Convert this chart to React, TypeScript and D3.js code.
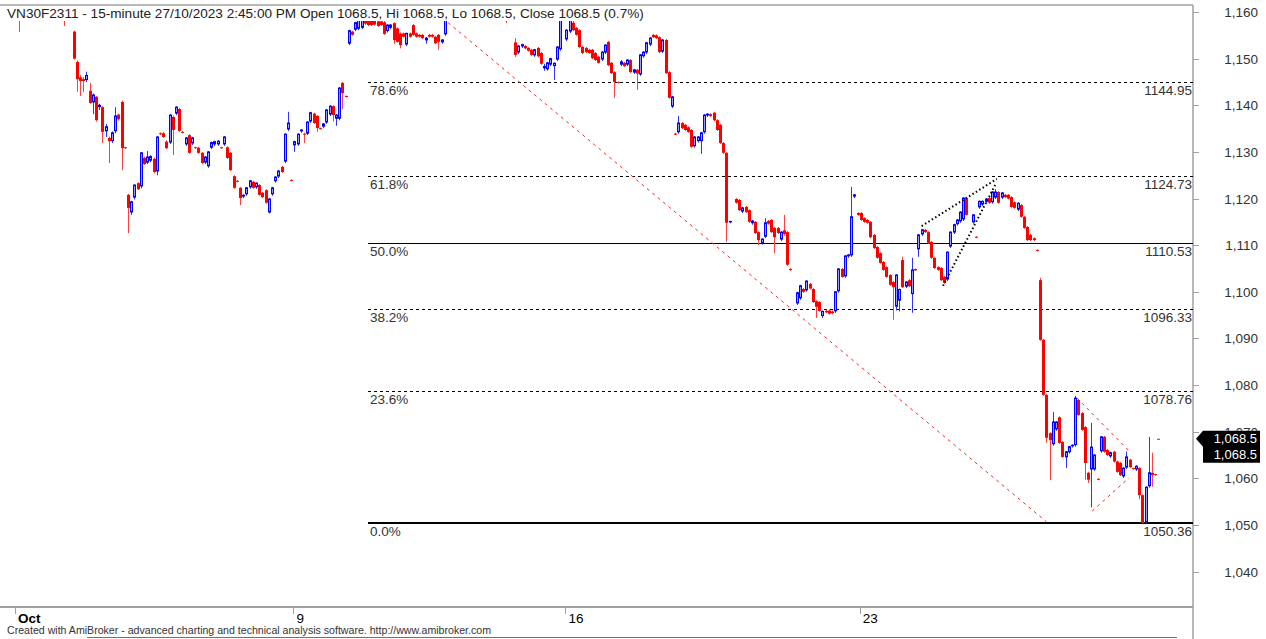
import React from 'react';
import * as d3 from 'd3';

type Bar = [number, number, number, number] | null; // open, high, low, close

// Week of Oct 2 - Oct 6 (15-minute bars)
const week1: Bar[] = [
  [1164.0,1166.5,1162.0,1165.0],[1165.0,1166.0,1155.7,1163.0],[1163.0,1165.0,1161.5,1164.5],[1164.5,1167.0,1163.5,1166.0],
  [1166.0,1167.5,1164.0,1164.5],[1164.5,1166.0,1162.5,1163.0],[1163.0,1164.5,1161.0,1162.0],[1162.0,1165.0,1161.5,1164.5],
  [1164.5,1166.5,1163.5,1165.5],[1165.5,1166.0,1162.5,1163.0],[1163.0,1164.0,1160.5,1161.5],[1161.5,1163.5,1160.0,1162.5],
  [1162.5,1164.0,1161.0,1161.5],[1161.5,1162.5,1159.5,1160.5],[1160.5,1162.0,1159.2,1161.0],[1161.0,1161.5,1157.0,1160.0],
  [1160.0,1161.5,1159.0,1160.5],[1160.5,1161.0,1159.5,1160.0],
  [1155.8,1156.0,1149.8,1150.0],[1149.3,1149.6,1142.9,1145.6],[1146.0,1146.5,1142.0,1145.2],[1145.6,1146.0,1142.8,1145.2],
  [1145.3,1147.2,1145.0,1146.4],[1143.1,1144.8,1140.3,1140.5],[1140.5,1142.5,1138.1,1142.2],[1141.8,1142.0,1136.5,1136.8],
  [1139.5,1140.3,1139.0,1140.0],[1139.6,1139.8,1131.9,1134.3],[1134.3,1136.0,1133.2,1135.4],[1133.0,1133.3,1127.6,1132.3],
  [1132.2,1134.4,1131.9,1134.1],[1134.3,1139.6,1134.0,1137.7],[1138.0,1138.2,1136.7,1137.0],[1140.7,1141.0,1126.1,1130.8],
  [1131.0,1131.1,1130.6,1130.8],
  [1120.8,1121.0,1112.6,1118.0],[1116.9,1119.5,1116.5,1119.3],[1120.1,1123.0,1119.8,1122.9],[1123.3,1123.5,1121.8,1122.0],
  [1122.5,1130.0,1122.2,1129.8],[1128.7,1129.0,1127.2,1127.4],[1127.6,1130.2,1127.4,1128.9],[1128.0,1129.3,1127.8,1129.0],
  [1128.5,1128.8,1125.4,1125.7],[1125.7,1133.4,1125.0,1133.2],[1134.0,1134.2,1133.6,1133.8],[1134.0,1134.3,1133.0,1133.2],
  [1132.2,1132.5,1130.6,1130.8],[1131.9,1138.1,1131.7,1137.9],[1137.5,1137.8,1129.3,1134.7],[1138.1,1139.8,1137.9,1139.6],
  [1139.2,1139.4,1134.3,1134.5],[1134.3,1134.5,1134.0,1134.2],[1131.5,1133.2,1131.3,1133.0],[1133.6,1133.8,1129.6,1129.8],
  [1131.7,1133.2,1131.5,1133.0],[1131.0,1131.1,1130.7,1130.8],[1130.9,1131.1,1129.6,1129.8],[1129.8,1130.0,1127.4,1127.6],
  [1127.6,1129.1,1127.4,1128.9],[1126.8,1130.2,1126.6,1130.0],[1130.8,1132.2,1130.6,1132.0],[1131.5,1132.4,1131.3,1132.2],
  [1131.5,1132.5,1131.3,1132.3],[1131.0,1131.1,1130.7,1130.8],[1131.5,1133.4,1131.3,1133.2],[1131.0,1131.2,1128.5,1128.7],
  [1129.8,1130.0,1125.9,1126.1],[1124.8,1125.0,1122.1,1122.3],[1123.8,1124.0,1123.5,1123.6],[1122.3,1122.5,1118.6,1120.1],
  [1120.3,1120.9,1120.1,1120.7],[1120.8,1122.5,1120.6,1122.3],[1122.3,1124.0,1122.1,1123.8],[1123.6,1123.8,1122.1,1122.3],
  [1122.3,1123.5,1122.1,1123.3],[1122.9,1123.1,1120.6,1120.8],[1121.2,1121.4,1120.1,1120.3],[1121.8,1122.0,1118.9,1119.1],
  [1116.9,1120.1,1116.8,1119.9],[1120.8,1122.5,1120.6,1122.3],[1123.6,1124.8,1123.4,1124.6],[1124.6,1126.1,1124.4,1125.9],
  [1126.8,1127.0,1125.5,1125.7],[1127.8,1134.0,1127.6,1133.8],[1134.7,1138.6,1134.5,1136.2],[1124.0,1124.1,1123.7,1123.8],
];

// Week of Oct 9 - Oct 13
const week2: Bar[] = [
  [1131.3,1132.4,1130.0,1132.2],[1131.5,1134.0,1131.3,1133.8],[1134.3,1134.9,1134.1,1134.7],[1133.9,1134.1,1131.9,1133.8],
  [1133.8,1136.6,1133.6,1136.4],[1136.4,1138.6,1136.2,1138.4],[1138.2,1138.4,1136.0,1136.2],[1137.7,1137.9,1134.3,1135.1],
  [1135.1,1135.2,1134.8,1135.0],[1135.3,1136.2,1135.1,1136.0],[1136.2,1139.2,1136.0,1139.0],[1137.9,1140.0,1137.7,1139.8],
  [1139.8,1140.0,1136.5,1137.9],[1137.0,1138.1,1135.6,1137.9],[1137.0,1143.9,1136.8,1143.7],[1144.8,1145.0,1139.2,1142.6],
  [1142.0,1142.1,1141.7,1141.8],
  [1153.1,1156.2,1152.9,1156.0],[1155.8,1156.0,1154.9,1155.1],[1156.1,1157.9,1155.9,1157.7],[1156.3,1158.8,1156.1,1158.5],
  [1156.5,1159.3,1156.3,1159.0],[1159.0,1159.5,1157.2,1157.5],[1158.5,1158.8,1157.0,1157.2],[1158.3,1158.6,1157.0,1157.2],
  [1158.3,1158.6,1157.1,1157.3],[1158.0,1158.4,1156.8,1157.0],[1158.0,1158.4,1157.0,1157.2],[1157.8,1158.1,1155.1,1155.3],
  [1155.8,1157.4,1155.6,1157.2],[1156.5,1157.4,1156.3,1157.2],[1157.6,1157.8,1153.1,1154.0],[1156.5,1156.7,1153.4,1153.6],
  [1155.4,1155.6,1152.2,1152.9],[1155.4,1155.6,1154.5,1154.7],[1152.9,1155.6,1152.7,1155.4],[1155.4,1155.6,1154.5,1154.7],
  [1157.2,1157.4,1154.9,1155.1],[1155.4,1155.6,1154.5,1154.7],[1155.1,1155.3,1154.5,1154.7],[1155.1,1155.3,1154.2,1154.4],
  [1153.8,1154.6,1153.2,1154.4],[1155.1,1155.3,1154.5,1154.7],[1155.1,1155.3,1154.5,1154.7],[1154.7,1154.9,1153.1,1153.3],
  [1155.1,1155.3,1151.9,1153.6],[1153.4,1154.2,1153.2,1154.0],[1155.1,1160.5,1154.9,1159.5],
  [1159.5,1162.0,1159.2,1161.5],[1161.5,1163.5,1160.8,1163.0],[1163.0,1164.5,1162.0,1162.5],[1162.5,1165.0,1162.0,1164.5],
  [1164.5,1167.0,1164.0,1166.5],[1166.5,1168.0,1165.5,1167.0],[1167.0,1169.0,1166.0,1168.5],[1168.5,1170.7,1167.5,1169.5],
  [1169.5,1170.0,1166.5,1167.0],[1167.0,1168.0,1165.0,1165.5],[1165.5,1167.0,1164.5,1166.5],[1166.5,1167.5,1164.0,1164.5],
  [1164.5,1165.5,1162.5,1163.0],[1163.0,1164.5,1161.5,1164.0],[1164.0,1165.0,1162.0,1162.5],[1162.5,1163.5,1160.5,1161.0],
  [1161.0,1162.5,1160.0,1162.0],[1162.0,1163.0,1160.5,1161.0],[1161.0,1161.5,1157.6,1160.5],[1160.5,1161.5,1159.5,1160.0],
  [1160.0,1160.5,1159.3,1159.8],
  [1153.5,1154.4,1150.4,1150.8],[1151.2,1152.9,1151.0,1152.7],[1152.5,1153.2,1152.3,1153.0],[1152.7,1152.9,1152.0,1152.2],
  [1152.3,1152.5,1151.5,1151.7],[1151.9,1152.1,1150.6,1150.8],[1150.6,1152.1,1150.4,1151.9],[1152.3,1152.5,1150.3,1150.5],
  [1151.2,1151.4,1148.7,1148.9],[1147.8,1148.9,1147.4,1148.3],[1147.6,1149.3,1147.4,1149.1],[1148.6,1150.2,1148.4,1150.0],
  [1148.3,1149.2,1145.4,1149.0],[1149.7,1152.7,1149.5,1152.5],[1151.9,1162.0,1151.7,1161.0],[1161.0,1161.3,1160.7,1161.0],
];

// Week of Oct 16 - Oct 20
const week3: Bar[] = [
  [1154.0,1156.3,1153.8,1156.1],[1155.7,1159.0,1155.5,1158.5],[1157.7,1158.2,1155.9,1156.1],[1156.6,1156.8,1154.9,1155.1],
  [1156.1,1156.3,1152.3,1152.5],[1152.5,1152.7,1151.0,1151.2],[1152.3,1152.5,1151.2,1151.4],[1151.9,1152.1,1151.0,1151.2],
  [1151.9,1152.1,1149.9,1150.1],[1151.2,1151.4,1149.5,1149.7],[1150.4,1150.6,1148.9,1149.1],[1149.7,1151.6,1149.5,1151.4],
  [1151.2,1153.1,1151.0,1152.9],[1153.6,1153.8,1148.4,1148.6],[1149.1,1149.3,1146.7,1146.9],[1147.1,1147.3,1141.6,1145.0],
  [1145.0,1145.1,1144.7,1144.8],
  [1148.6,1149.7,1148.4,1149.3],[1149.1,1149.3,1148.2,1148.4],[1148.6,1149.9,1148.4,1149.7],[1149.7,1149.9,1146.9,1147.1],
  [1146.9,1147.8,1146.7,1147.6],[1147.6,1147.8,1143.3,1146.8],[1146.5,1151.0,1146.3,1150.8],[1150.4,1151.6,1150.2,1151.4],
  [1151.2,1153.6,1151.0,1153.4],[1152.9,1154.6,1152.7,1154.4],[1155.1,1155.3,1154.4,1154.6],[1155.0,1155.2,1154.2,1154.4],
  [1154.6,1154.8,1151.2,1151.4],[1151.4,1154.2,1151.2,1154.0],[1154.0,1154.2,1146.7,1146.9],[1147.1,1147.3,1141.4,1141.6],
  [1139.6,1142.0,1139.4,1141.8],
  [1133.9,1134.1,1133.6,1133.8],[1134.1,1137.7,1133.9,1136.2],[1136.2,1136.4,1134.9,1135.1],[1135.8,1136.0,1134.5,1134.7],
  [1135.3,1135.5,1134.1,1134.3],[1134.7,1134.9,1130.9,1131.1],[1131.1,1133.4,1130.9,1133.2],[1132.2,1133.4,1132.0,1133.2],
  [1132.2,1134.3,1129.6,1134.1],[1134.1,1138.1,1133.9,1137.9],[1137.7,1138.3,1137.5,1138.1],[1138.1,1138.3,1137.5,1137.7],
  [1138.4,1138.6,1136.6,1136.8],[1136.8,1137.0,1134.5,1134.7],[1135.8,1136.0,1131.7,1131.9],[1131.9,1132.1,1129.6,1129.8],
  [1129.8,1130.0,1110.7,1114.8],[1114.9,1115.2,1114.7,1115.1],
  null,
  [1119.9,1120.1,1118.9,1119.1],[1119.7,1119.9,1117.3,1117.5],[1117.1,1118.2,1116.9,1118.0],[1118.2,1118.4,1116.9,1117.1],
  [1117.5,1117.7,1114.8,1115.0],[1114.6,1115.4,1114.4,1115.2],[1115.0,1115.2,1112.4,1112.6],[1112.8,1113.0,1110.0,1111.1],
  [1110.3,1111.5,1110.1,1111.3],[1111.7,1115.8,1111.5,1114.8],[1115.2,1115.4,1114.4,1114.6],[1115.4,1115.6,1112.6,1112.8],
  [1113.7,1113.9,1108.3,1111.7],[1113.7,1113.9,1112.4,1112.6],[1111.1,1113.0,1110.9,1112.8],[1113.2,1116.5,1112.0,1112.4],
  [1112.8,1113.0,1105.6,1105.8],[1104.9,1105.1,1104.5,1104.7],
  null,
  [1097.4,1100.0,1097.2,1099.8],[1098.5,1101.5,1098.3,1101.3],[1100.6,1100.8,1099.8,1100.0],[1100.2,1102.5,1100.0,1102.3],
  [1101.7,1101.9,1100.5,1100.7],[1100.6,1100.8,1097.6,1097.8],[1098.0,1098.2,1094.4,1096.8],[1097.8,1098.0,1095.7,1095.9],
  [1094.7,1096.0,1094.4,1095.8],[1095.9,1096.1,1095.4,1095.6],[1096.0,1096.2,1095.1,1095.3],[1095.8,1096.0,1095.2,1095.4],
  [1095.7,1100.2,1095.5,1100.0],[1100.0,1105.1,1099.8,1104.9],[1104.9,1105.1,1103.0,1103.2],[1103.2,1107.9,1103.0,1107.7],
  [1107.5,1108.1,1107.3,1107.9],[1107.7,1122.5,1107.5,1116.1],[1120.3,1121.0,1120.1,1120.8],
];

// Week of Oct 23 - Oct 27
const week4: Bar[] = [
  [1116.9,1117.1,1116.3,1116.5],[1116.9,1117.1,1115.2,1115.4],[1115.8,1116.0,1114.8,1115.0],[1115.4,1115.6,1114.6,1114.8],
  [1115.0,1115.2,1111.5,1111.7],[1112.2,1112.4,1109.2,1109.4],[1109.6,1109.8,1107.1,1107.3],[1108.3,1108.5,1106.0,1106.2],
  [1106.4,1106.6,1104.5,1104.7],[1105.3,1105.5,1103.0,1103.2],[1103.6,1103.8,1101.3,1101.5],[1102.1,1102.3,1094.0,1101.0],
  [1096.7,1103.8,1096.0,1103.6],[1098.0,1100.7,1095.8,1100.5],[1106.8,1107.5,1100.8,1101.0],[1101.0,1102.3,1100.8,1102.1],
  [1102.5,1102.7,1101.0,1101.2],[1099.4,1107.3,1095.5,1104.7],[1104.9,1105.0,1104.5,1104.6],
  [1109.0,1112.4,1107.5,1112.2],[1112.2,1113.5,1112.0,1113.3],[1113.3,1113.5,1112.6,1112.8],[1112.8,1113.0,1110.3,1110.5],
  [1110.7,1110.9,1107.1,1107.3],[1107.3,1107.5,1104.9,1105.1],[1105.3,1105.5,1104.5,1104.7],[1105.1,1105.3,1102.3,1102.5],
  [1103.2,1103.4,1101.7,1101.9],[1102.5,1108.7,1102.3,1108.5],[1109.6,1113.0,1109.4,1112.8],[1112.6,1114.6,1112.4,1114.4],
  [1114.4,1115.6,1114.2,1115.4],[1115.0,1117.3,1114.8,1117.1],[1115.4,1120.3,1115.2,1120.1],[1120.1,1120.3,1116.3,1116.5],
  null,[1114.8,1116.7,1114.6,1116.5],[1111.8,1111.9,1111.5,1111.6],
  [1118.0,1119.6,1117.8,1119.4],[1118.6,1119.6,1118.4,1119.4],[1119.2,1120.1,1119.0,1119.9],[1120.1,1120.3,1118.9,1119.1],
  [1119.1,1121.6,1118.9,1121.4],[1120.1,1122.0,1119.9,1121.4],[1121.4,1121.6,1118.9,1119.1],[1120.1,1121.4,1119.9,1121.2],
  [1120.8,1121.0,1120.1,1120.3],[1120.8,1121.0,1119.8,1120.0],[1120.3,1120.5,1118.0,1118.2],[1119.2,1119.4,1117.8,1118.0],
  [1117.5,1119.2,1117.3,1119.0],[1118.6,1118.8,1115.9,1116.1],[1116.1,1116.3,1113.5,1113.7],[1113.9,1114.1,1110.9,1111.1],
  [1112.2,1112.4,1110.9,1111.1],[1111.5,1111.7,1110.9,1111.1],[1109.0,1109.1,1108.7,1108.8],
  [1102.5,1103.0,1089.5,1089.7],[1089.7,1089.9,1077.7,1077.9],[1077.9,1078.1,1067.6,1068.7],[1069.7,1069.9,1059.6,1068.2],
  [1067.2,1074.2,1067.0,1072.1],[1070.4,1072.3,1070.2,1072.1],[1073.1,1073.3,1067.4,1067.6],[1067.8,1068.0,1064.4,1064.6],
  [1064.4,1065.9,1062.2,1065.7],[1065.5,1067.0,1065.3,1066.8],[1066.8,1067.3,1066.6,1067.1],[1067.0,1077.7,1066.8,1077.2],
  [1076.8,1077.0,1073.4,1073.6],[1074.0,1074.2,1070.2,1070.4],[1071.0,1071.2,1059.7,1063.3],[1061.2,1061.4,1059.0,1059.7],
  [1061.8,1071.9,1053.8,1066.7],[1061.8,1065.2,1061.6,1065.0],[1059.9,1060.0,1059.6,1059.7],
  [1065.7,1069.1,1065.5,1068.9],[1068.9,1069.1,1065.5,1065.7],[1066.1,1066.3,1064.8,1065.0],[1064.6,1065.7,1064.4,1065.5],
  [1065.7,1065.9,1063.4,1063.6],[1063.6,1063.8,1061.2,1061.4],[1063.3,1063.5,1060.5,1060.7],[1060.3,1062.4,1060.1,1062.2],
  [1062.2,1065.7,1062.0,1064.6],[1064.0,1064.2,1062.2,1062.4],[1062.2,1062.3,1061.9,1062.0],[1061.8,1062.8,1061.6,1062.6],
  [1062.2,1062.4,1055.5,1056.4],[1056.4,1056.6,1050.36,1050.4],[1050.4,1058.3,1050.36,1058.1],[1058.2,1068.9,1058.0,1061.2],
  [1061.2,1065.5,1058.2,1060.7],[1060.9,1061.0,1060.6,1060.7],[1068.5,1068.5,1068.5,1068.5],
];

const bars: Bar[] = [...week1, ...week2, ...week3, ...week4];

const yTicks = [1040, 1050, 1060, 1070, 1080, 1090, 1100, 1110, 1120, 1130, 1140, 1150, 1160];
const xTickLabels = ['Oct', '9', '16', '23'];
const xTickIndex = [0, 87, 172, 264];

const fibPct = ['0.0%', '23.6%', '38.2%', '50.0%', '61.8%', '78.6%'];
const fibValue = [1050.36, 1078.76, 1096.33, 1110.53, 1124.73, 1144.95];
const fibStartIndex = 110;

// drawn study lines: [barIndex, price] pairs
const trendLine: [number, number][] = [[130, 1160.6], [322, 1050.7]];
const wedgeUpper: [number, number][] = [[283, 1114.1], [306.5, 1124.2]];
const wedgeLower: [number, number][] = [[289.7, 1101.3], [306.3, 1123.3]];
const triUpper: [number, number][] = [[331.6, 1077.2], [348.1, 1065.7]];
const triLower: [number, number][] = [[336.3, 1053.0], [347.8, 1060.1]];

const lastPrice = 1068.5;
const title = 'VN30F2311 - 15-minute 27/10/2023 2:45:00 PM Open 1068.5, Hi 1068.5, Lo 1068.5, Close 1068.5 (0.7%)';
const footer = 'Created with AmiBroker - advanced charting and technical analysis software. http://www.amibroker.com';

const FONT = '"Liberation Sans", Arial, sans-serif';

export default function App() {
  const W = 1266, H = 639;
  const plotRight = 1193;
  const axisY = 607;
  const x = d3.scaleLinear().domain([0, bars.length - 1]).range([16, 16 + 3.2 * (bars.length - 1)]);
  const y = d3.scaleLinear().domain([1050, 1160]).range([525, 12]);
  const line = d3.line<[number, number]>().x(d => x(d[0])).y(d => y(d[1]));
  const fmt = d3.format(',');

  const candles = bars.map((b, i) => {
    if (!b) return null;
    const [o, h, l, c] = b;
    const cx = Math.round(x(i));
    const up = c > o;
    const top = y(Math.max(o, c));
    const bot = y(Math.min(o, c));
    const hgt = Math.max(1, bot - top);
    return (
      <g key={i}>
        <line x1={cx + 0.5} x2={cx + 0.5} y1={y(h)} y2={y(l)} stroke={up ? '#3030ff' : '#ff4040'} strokeWidth={1} />
        {up ? (
          <rect x={cx - 0.5} y={top} width={2} height={Math.max(0.5, hgt - 1)} fill="#9a9aff" stroke="#0000ff" strokeWidth={1} />
        ) : (
          <rect x={cx - 1} y={top} width={3} height={hgt} fill="#ff0000" />
        )}
      </g>
    );
  });

  return (
    <svg width={W} height={H} style={{ position: 'absolute', left: 0, top: 0, background: '#fff' }} fontFamily={FONT}>
      <defs>
        <clipPath id="plot">
          <rect x={0} y={21} width={plotRight} height={axisY - 21} />
        </clipPath>
      </defs>
      <rect x={0} y={0} width={W} height={H} fill="#fff" />
      {/* frame */}
      <line x1={0} x2={plotRight} y1={5} y2={5} stroke="#a0a0a0" strokeWidth={1.5} />
      <line x1={plotRight} x2={plotRight} y1={5} y2={H} stroke="#a0a0a0" strokeWidth={1.5} />
      <line x1={0} x2={plotRight} y1={axisY} y2={axisY} stroke="#a0a0a0" strokeWidth={2} />

      {/* fib levels */}
      {fibValue.map((v, k) => {
        const yy = Math.round(y(v)) + 0.5;
        const solid = k === 0 || k === 3;
        return (
          <g key={'f' + k}>
            <line x1={x(fibStartIndex)} x2={plotRight} y1={k === 0 ? Math.round(y(v)) : yy} y2={k === 0 ? Math.round(y(v)) : yy}
              stroke="#000" strokeWidth={k === 0 ? 2 : 1} strokeDasharray={solid ? undefined : '3,3'} />
            <text x={x(fibStartIndex) + 2} y={yy + 12.5} fontSize={13.5} fill="#333">{fibPct[k]}</text>
            <text x={plotRight - 1} y={yy + 12.5} fontSize={13.5} fill="#333" textAnchor="end">{v.toFixed(2)}</text>
          </g>
        );
      })}

      <g clipPath="url(#plot)">
        {candles}
        <path d={line(trendLine) || ''} stroke="#ff2020" strokeWidth={1} fill="none" strokeDasharray="3,4" />
        <path d={line(triUpper) || ''} stroke="#ff2020" strokeWidth={1} fill="none" strokeDasharray="3,4" />
        <path d={line(triLower) || ''} stroke="#ff2020" strokeWidth={1} fill="none" strokeDasharray="3,4" />
        <path d={line(wedgeUpper) || ''} stroke="#000" strokeWidth={2} fill="none" strokeDasharray="1.5,2.5" />
        <path d={line(wedgeLower) || ''} stroke="#000" strokeWidth={2} fill="none" strokeDasharray="1.5,2.5" />
      </g>

      {/* right axis */}
      {yTicks.map(t => (
        <g key={'y' + t}>
          <line x1={plotRight} x2={plotRight + 6} y1={Math.round(y(t)) + 0.5} y2={Math.round(y(t)) + 0.5} stroke="#a0a0a0" />
          {t !== 1070 && (
            <text x={1258} y={y(t) + 5} fontSize={13.5} fill="#333" textAnchor="end">{fmt(t)}</text>
          )}
        </g>
      ))}
      {/* 1,070 label sits behind the last-price marker, only its top shows */}
      <defs>
        <clipPath id="lbl1070">
          <rect x={1200} y={y(1070) - 10} width={66} height={10 - (y(1070) - (y(lastPrice) - 8))} />
        </clipPath>
      </defs>
      <text x={1258} y={y(1070) + 5} fontSize={13.5} fill="#333" textAnchor="end" clipPath="url(#lbl1070)">{fmt(1070)}</text>

      {/* last price marker */}
      <g>
        <path d={`M${plotRight + 3},${y(lastPrice)} L${plotRight + 10},${y(lastPrice) - 8} L1260,${y(lastPrice) - 8} L1260,${y(lastPrice) + 24} L${plotRight + 10},${y(lastPrice) + 24} L${plotRight + 10},${y(lastPrice) + 8} Z`} fill="#000" />
        <text x={1257} y={y(lastPrice) + 4.5} fontSize={13} fill="#fff" textAnchor="end">{fmt(lastPrice)}</text>
        <text x={1257} y={y(lastPrice) + 20.5} fontSize={13} fill="#fff" textAnchor="end">{fmt(lastPrice)}</text>
      </g>

      {/* bottom axis */}
      {xTickIndex.map((idx, k) => (
        <g key={'x' + k}>
          <line x1={Math.round(x(idx)) - 0.5} x2={Math.round(x(idx)) - 0.5} y1={axisY + 1} y2={axisY + 7} stroke="#a0a0a0" />
          <text x={x(idx) + 2} y={axisY + 16} fontSize={13.5} fill="#000" fontWeight={k === 0 ? 'bold' : 'normal'}>{xTickLabels[k]}</text>
        </g>
      ))}

      <text x={7} y={18} fontSize={13.6} fill="#222">{title}</text>
      <text x={7} y={634} fontSize={10.6} fill="#333">{footer}</text>
      <line x1={87} x2={1177} y1={637.5} y2={637.5} stroke="#3d7cc9" strokeWidth={1} />
    </svg>
  );
}
